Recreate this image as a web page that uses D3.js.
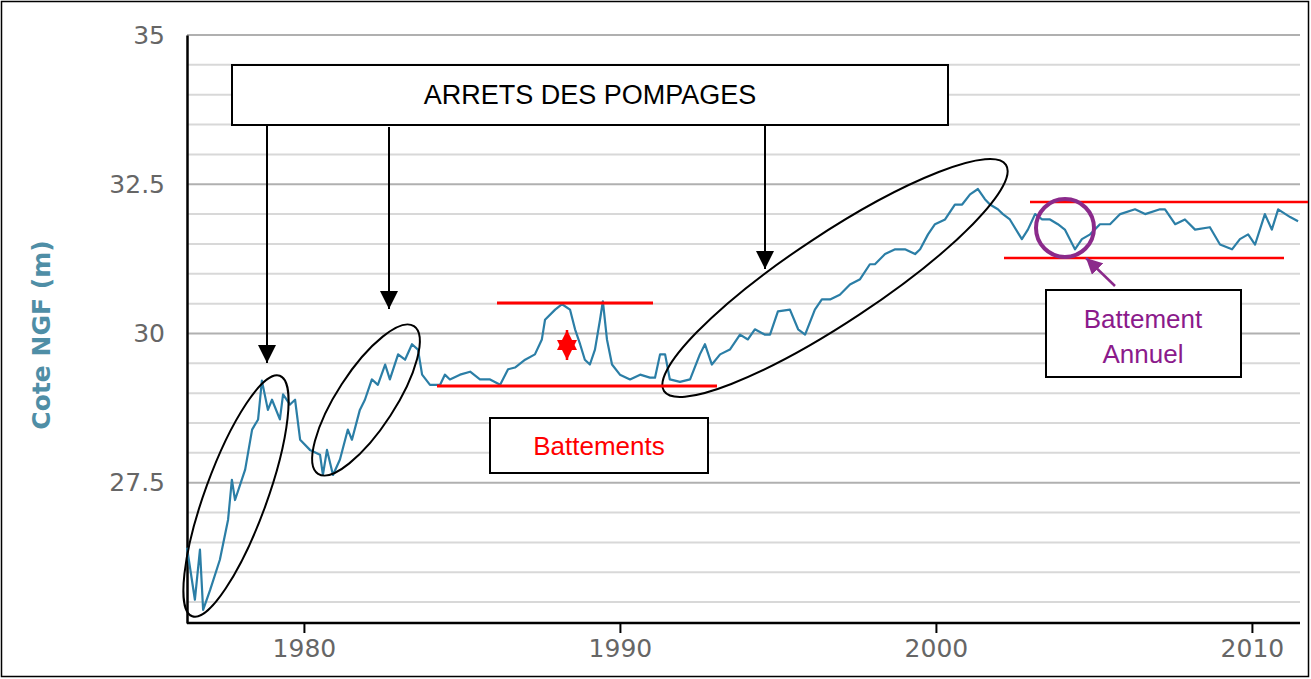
<!DOCTYPE html>
<html><head><meta charset="utf-8">
<script src="https://cdn.jsdelivr.net/npm/d3@7"></script>
<style>body{margin:0;background:#fff}svg{display:block}</style></head>
<body><svg id="c" width="1311" height="679"></svg>
<script>
const years=[1976.30,1976.55,1976.71,1976.81,1977.03,1977.34,1977.60,1977.72,1977.82,1978.14,1978.36,1978.55,1978.67,1978.86,1978.99,1979.24,1979.34,1979.56,1979.72,1979.88,1980.19,1980.51,1980.60,1980.73,1980.92,1981.14,1981.39,1981.52,1981.77,1981.93,1982.15,1982.34,1982.57,1982.72,1982.98,1983.20,1983.42,1983.61,1983.74,1983.99,1984.31,1984.46,1984.62,1984.94,1985.26,1985.57,1985.89,1986.21,1986.46,1986.68,1987.00,1987.31,1987.53,1987.63,1987.95,1988.17,1988.42,1988.58,1988.74,1988.89,1989.05,1989.21,1989.37,1989.46,1989.59,1989.75,1990.00,1990.32,1990.64,1990.95,1991.11,1991.27,1991.43,1991.58,1991.90,1992.22,1992.53,1992.69,1992.91,1993.17,1993.48,1993.80,1994.05,1994.27,1994.59,1994.75,1995.00,1995.38,1995.64,1995.86,1996.17,1996.39,1996.65,1996.96,1997.28,1997.60,1997.91,1998.07,1998.39,1998.71,1999.02,1999.34,1999.50,1999.75,1999.97,2000.29,2000.60,2000.83,2001.08,2001.33,2001.55,2001.71,2001.96,2002.12,2002.34,2002.72,2002.91,2003.14,2003.36,2003.61,2003.86,2004.08,2004.40,2004.62,2004.88,2005.19,2005.51,2005.83,2006.30,2006.62,2007.09,2007.25,2007.57,2007.88,2008.20,2008.67,2008.99,2009.37,2009.62,2009.88,2010.10,2010.41,2010.63,2010.83,2011.21,2011.46];
const levels=[26.41,25.54,26.38,25.37,25.70,26.21,26.88,27.55,27.21,27.72,28.39,28.56,29.21,28.72,28.89,28.56,28.98,28.81,28.89,28.22,28.05,27.97,27.63,28.05,27.63,27.89,28.39,28.22,28.72,28.89,29.23,29.14,29.48,29.23,29.65,29.56,29.82,29.73,29.31,29.14,29.14,29.31,29.23,29.31,29.36,29.23,29.23,29.14,29.40,29.43,29.56,29.65,29.90,30.23,30.40,30.49,30.40,30.07,29.82,29.56,29.48,29.73,30.23,30.54,29.90,29.48,29.31,29.23,29.31,29.26,29.26,29.65,29.65,29.23,29.19,29.23,29.65,29.82,29.48,29.65,29.73,29.98,29.90,30.07,29.98,29.98,30.37,30.40,30.07,29.98,30.40,30.57,30.57,30.65,30.82,30.91,31.16,31.16,31.33,31.41,31.41,31.33,31.41,31.66,31.83,31.91,32.16,32.16,32.33,32.42,32.25,32.16,32.08,32.00,31.91,31.58,31.74,32.00,31.91,31.91,31.83,31.74,31.41,31.58,31.66,31.83,31.83,32.00,32.08,32.00,32.08,32.08,31.83,31.91,31.74,31.78,31.49,31.41,31.58,31.66,31.49,32.00,31.74,32.08,31.95,31.88];
const yTicks=[27.5,30,32.5,35];
const xTicks=[1980,1990,2000,2010];

const svg=d3.select("#c");
const L=187,R=1300,T=35,B=623;
const x=d3.scaleLinear().domain([1976.3,2011.5]).range([L,L+(2011.5-1976.3)*31.6]);
const y=d3.scaleLinear().domain([25.15,35]).range([B,T]);
svg.append("rect").attr("x",1.5).attr("y",1.5).attr("width",1307).attr("height",675).attr("fill","none").attr("stroke","#000").attr("stroke-width",1.5);
const minor=d3.range(25.5,35.01,0.5).filter(v=>Math.abs(v/2.5-Math.round(v/2.5))>1e-6);
svg.append("g").selectAll("line").data(minor).join("line").attr("x1",L).attr("x2",R).attr("y1",d=>y(d)).attr("y2",d=>y(d)).attr("stroke","#d8d8d8").attr("stroke-width",2);
svg.append("g").selectAll("line").data(yTicks).join("line").attr("x1",L).attr("x2",R).attr("y1",d=>y(d)).attr("y2",d=>y(d)).attr("stroke","#b0b0b0").attr("stroke-width",2);
const ya=svg.append("g").attr("transform",`translate(${L},0)`).call(d3.axisLeft(y).tickValues(yTicks).tickSize(0).tickPadding(22).tickFormat(d3.format("")));
ya.select(".domain").attr("stroke","#000").attr("stroke-width",2.5);
ya.selectAll("text").attr("font-family","DejaVu Sans").attr("font-size",25).attr("fill","#666");
const xa=svg.append("g").attr("transform",`translate(0,${B})`).call(d3.axisBottom(x).tickValues(xTicks).tickSize(10).tickPadding(6).tickFormat(d3.format("d")));
xa.select(".domain").attr("stroke","#000").attr("stroke-width",2.5).attr("d",`M${L},0H${R}`);
xa.selectAll("line").attr("stroke","#000").attr("stroke-width",2);
xa.selectAll("text").attr("font-family","DejaVu Sans").attr("font-size",25).attr("fill","#666");
svg.append("text").attr("transform","translate(50,335) rotate(-90)").attr("text-anchor","middle").attr("font-family","DejaVu Sans").attr("font-weight","bold").attr("font-size",25).attr("fill","#4f8ea6").text("Cote NGF (m)");
const data=years.map((d,i)=>[d,levels[i]]);
svg.append("path").datum(data).attr("fill","none").attr("stroke","#2b7ea6").attr("stroke-width",2.2).attr("stroke-linejoin","round").attr("d",d3.line().x(d=>x(d[0])).y(d=>y(d[1])));

// annotations
const defs=svg.append("defs");
function mk(id,c){defs.append("marker").attr("id",id).attr("viewBox","0 0 10 10").attr("refX",9).attr("refY",5).attr("markerWidth",7).attr("markerHeight",7).attr("markerUnits","userSpaceOnUse").attr("orient","auto-start-reverse").append("path").attr("d","M0,0L10,5L0,10z").attr("fill",c);}
defs.append("marker").attr("id","ab").attr("viewBox","0 0 10 10").attr("refX",10).attr("refY",5).attr("markerWidth",18).attr("markerHeight",18).attr("markerUnits","userSpaceOnUse").attr("orient","auto").append("path").attr("d","M0,0L10,5L0,10z").attr("fill","#000");
defs.append("marker").attr("id","ar").attr("viewBox","0 0 10 10").attr("refX",10).attr("refY",5).attr("markerWidth",20).attr("markerHeight",20).attr("markerUnits","userSpaceOnUse").attr("orient","auto-start-reverse").append("path").attr("d","M0,0L10,5L0,10z").attr("fill","#f00");
defs.append("marker").attr("id","ap").attr("viewBox","0 0 10 10").attr("refX",10).attr("refY",5).attr("markerWidth",16).attr("markerHeight",16).attr("markerUnits","userSpaceOnUse").attr("orient","auto").append("path").attr("d","M0,0L10,5L0,10z").attr("fill","#8b2a8b");
function box(x0,y0,w,h){svg.append("rect").attr("x",x0).attr("y",y0).attr("width",w).attr("height",h).attr("fill","#fff").attr("stroke","#000").attr("stroke-width",2);}
function ln(x1,y1,x2,y2,c,w,m){const l=svg.append("line").attr("x1",x1).attr("y1",y1).attr("x2",x2).attr("y2",y2).attr("stroke",c).attr("stroke-width",w);if(m){l.attr("marker-end",`url(#${m})`);}return l;}
function ell(cx,cy,rx,ry,a){svg.append("ellipse").attr("cx",cx).attr("cy",cy).attr("rx",rx).attr("ry",ry).attr("transform",`rotate(${a},${cx},${cy})`).attr("fill","none").attr("stroke","#000").attr("stroke-width",2);}
box(232,65,716,60);
svg.append("text").attr("x",590,).attr("y",104).attr("text-anchor","middle").attr("font-family","Liberation Sans").attr("font-size",27).text("ARRETS DES POMPAGES");
ln(267,125,267,363,"#000",2,"ab");
ln(389,127,389,309,"#000",2,"ab");
ln(765,125,765,269,"#000",2,"ab");
ell(236,496,31,128,20);
ell(366,400,29,88,33);
ell(835,278,205,44,-33.5);
ln(497,303,653,303,"#f00",3);
ln(437,386,717,386,"#f00",3);
ln(567,330,567,360,"#f00",2.5).attr("marker-end","url(#ar)").attr("marker-start","url(#ar)");
svg.select("line:last-of-type");
ln(1030,202,1308,202,"#f00",2.5);
ln(1004,258,1284,258,"#f00",2.5);
svg.append("circle").attr("cx",1065).attr("cy",228).attr("r",29).attr("fill","none").attr("stroke","#8b2a8b").attr("stroke-width",4);
ln(1115,286,1086,258,"#8b2a8b",2.5,"ap");
box(490,418,218,55);
svg.append("text").attr("x",599).attr("y",455).attr("text-anchor","middle").attr("font-family","Liberation Sans").attr("font-size",26).attr("fill","#f00").text("Battements");
box(1046,290,195,87);
svg.append("text").attr("x",1143,).attr("y",328).attr("text-anchor","middle").attr("font-family","Liberation Sans").attr("font-size",26).attr("fill","#8b1a8b").text("Battement");
svg.append("text").attr("x",1143,).attr("y",363).attr("text-anchor","middle").attr("font-family","Liberation Sans").attr("font-size",26).attr("fill","#8b1a8b").text("Annuel");
</script></body></html>
